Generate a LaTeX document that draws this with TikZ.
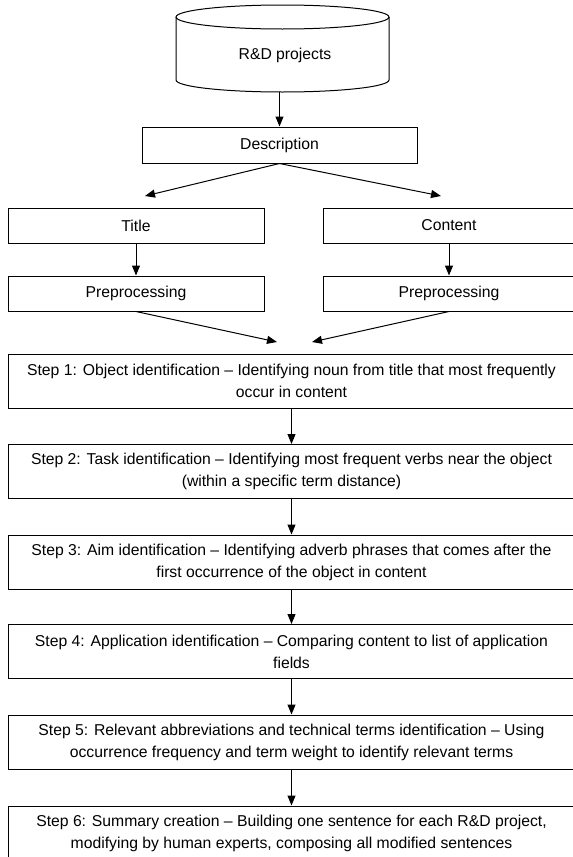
\documentclass[tikz,border=0pt]{standalone}
\usepackage{fontspec}
\setmainfont{Liberation Sans}
\usetikzlibrary{arrows.meta}

\begin{document}
\begin{tikzpicture}[x=0.75pt,y=0.75pt,yscale=-1,
  box/.style={draw, line width=0.75pt, inner sep=0pt, align=center, font=\fontsize{11.8}{16.5}\selectfont},
  stepbox/.style={box, minimum width=425.25pt, minimum height=40.5pt},
  arr/.style={-{Triangle[length=7.5pt,width=6pt]}, line width=0.75pt}]
\useasboundingbox (0,0) rectangle (573,857);

%Shape: Can (R&D projects)
\draw [line width=0.75pt] (176,17) -- (176,80) arc[start angle=180, end angle=0, x radius=106.5, y radius=12] -- (389,17) ;
\draw [line width=0.75pt] (282.5,17) ellipse [x radius=106.5, y radius=12] ;
\node (proj) [inner sep=0pt, minimum width=159.75pt, minimum height=55.5pt, font=\fontsize{11.8}{16.5}\selectfont] at (285,55) {R\&D projects};

% Boxes
\node (desc) [box, minimum width=206.25pt, minimum height=27pt] at (279.5,145) {Description};
\node (title) [box, minimum width=192pt, minimum height=26.25pt] at (136,225.5) {Title};
\node (cont) [box, minimum width=189pt, minimum height=26.25pt] at (449,225.5) {Content};
\node (pre1) [box, minimum width=192pt, minimum height=26.25pt] at (136,293.5) {Preprocessing};
\node (pre2) [box, minimum width=189pt, minimum height=26.25pt] at (449,293.5) {Preprocessing};

% Steps
\node (s1) [stepbox] at (291.5,381) {Step 1: Object identification – Identifying noun from title that most frequently\\occur in content};
\node (s2) [stepbox] at (291.5,471.5) {Step 2: Task identification – Identifying most frequent verbs near the object\\(within a specific term distance)};
\node (s3) [stepbox] at (291.5,562) {Step 3: Aim identification – Identifying adverb phrases that comes after the\\first occurrence of the object in content};
\node (s4) [stepbox] at (291.5,651.5) {Step 4: Application identification – Comparing content to list of application\\fields};
\node (s5) [stepbox] at (291.5,742) {Step 5: Relevant abbreviations and technical terms identification – Using\\occurrence frequency and term weight to identify relevant terms};
\node (s6) [stepbox] at (291.5,833) {Step 6: Summary creation – Building one sentence for each R\&D project,\\modifying by human experts, composing all modified sentences};

% Free arrow ends
\coordinate (tl) at (145,196);
\coordinate (tr) at (441,196);
\coordinate (jl) at (277,342);
\coordinate (jr) at (312,342);

% Arrows
\draw [arr] (proj.south -| desc.north) -- (desc.north) ;
\draw [arr] (desc.south) -- (tl) ;
\draw [arr] (desc.south) -- (tr) ;
\draw [arr] (title) -- (pre1) ;
\draw [arr] (cont) -- (pre2) ;
\draw [arr] (pre1.south) -- (jl) ;
\draw [arr] (pre2.south) -- (jr) ;
\draw [arr] (s1) -- (s2) ;
\draw [arr] (s2) -- (s3) ;
\draw [arr] (s3) -- (s4) ;
\draw [arr] (s4) -- (s5) ;
\draw [arr] (s5) -- (s6) ;

\end{tikzpicture}
\end{document}
